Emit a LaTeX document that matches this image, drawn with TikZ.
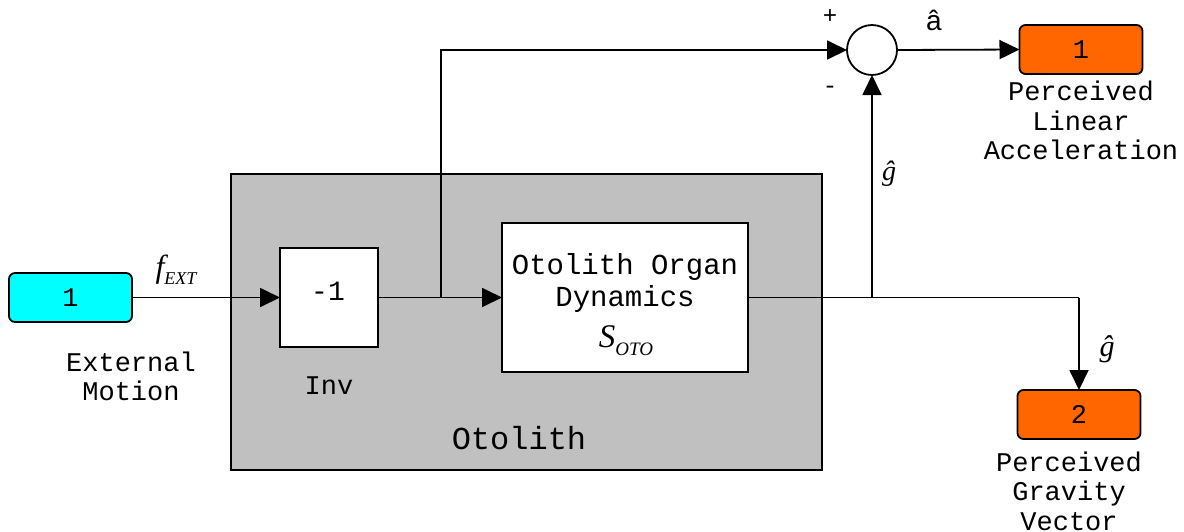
\documentclass[tikz,border=0pt]{standalone}
\usepackage{fontspec}
\setmonofont{Liberation Mono}
\newfontfamily\serifmath{Liberation Serif}
\newfontfamily\sansf{Liberation Sans}
\usetikzlibrary{arrows.meta}
\definecolor{incyan}{HTML}{00FFFF}
\definecolor{outorange}{HTML}{FF6600}
\definecolor{subgray}{HTML}{C0C0C0}
\begin{document}
\begin{tikzpicture}[x=1pt,y=-1pt,
  every node/.style={inner sep=0pt,outer sep=0pt},
  conn/.style={line width=1.8pt,-{Triangle[length=20pt,width=19pt]}},
  plain/.style={line width=1.8pt},
  port/.style={draw,line width=1.8pt,rounded corners=6pt,minimum width=123pt,minimum height=49pt,font=\ttfamily\fontsize{27}{30}\selectfont},
  blk/.style={draw,line width=1.8pt,fill=white},
  lbl/.style={font=\ttfamily\fontsize{27}{29.5}\selectfont,align=center},
  mth/.style={font=\serifmath\itshape\fontsize{28}{28}\selectfont}
]
\useasboundingbox (0,0) rectangle (1184,531);
% subsystem
\node[draw,line width=1.8pt,fill=subgray,minimum width=591pt,minimum height=296pt] (sub) at (526.5,322) {};
\node[font=\ttfamily\fontsize{32}{32}\selectfont] (subl) at (519,438) {Otolith};
% blocks
\node[port,fill=incyan] (in1) at (70.5,297.5) {1};
\node[lbl] (in1l) at (131,376.5) {External\\Motion};
\node[blk,minimum width=98pt,minimum height=99pt] (inv) at (329,297.5) {};
\node[font=\ttfamily\fontsize{28}{28}\selectfont] (invt) at (328,291) {-1};
\node[lbl] (invl) at (329,386) {Inv};
\node[blk,minimum width=246pt,minimum height=149pt] (oto) at (625,297.5) {};
\node[font=\ttfamily\fontsize{29}{32}\selectfont,align=center] (otot) at (625,283) {Otolith Organ\\Dynamics};
\node[font=\serifmath\itshape\fontsize{33}{33}\selectfont] (soto) at (626,341) {S\raisebox{-8pt}{\fontsize{19}{19}\selectfont OTO}};
\node[draw,line width=1.8pt,circle,minimum size=50pt,fill=white] (sum) at (872,50) {};
\node[font=\ttfamily\fontsize{24}{24}\selectfont] (plus) at (830,17) {+};
\node[font=\ttfamily\fontsize{24}{24}\selectfont] (minus) at (830,90) {-};
\node[port,fill=outorange] (out1) at (1081,49.5) {1};
\node[lbl] (out1l) at (1081,120.5) {Perceived\\Linear\\Acceleration};
\node[port,fill=outorange] (out2) at (1079,414.5) {2};
\node[lbl] (out2l) at (1069,491) {Perceived\\Gravity\\Vector};
% labels
\node[font=\serifmath\itshape\fontsize{32}{32}\selectfont] (fext) at (176,270) {f\raisebox{-7pt}{\fontsize{18}{18}\selectfont EXT}};
\node[font=\sansf\fontsize{28}{28}\selectfont] (ahat) at (934,20) {\^a};
\node[mth] (g1) at (889,174) {\^g};
\node[mth,font=\serifmath\itshape\fontsize{30}{30}\selectfont] (g2) at (1107,349) {\^g};
% connectors
\coordinate (b1) at (441,297.5);
\coordinate (b2) at (872,297.5);
\coordinate (c2) at (1079,297.5);
\draw[conn] (in1.east) -- (inv.west);
\draw[conn] (inv.east) -- (oto.west);
\draw[conn] (b1) |- (sum.west);
\draw[plain] (oto.east) -- (c2);
\draw[conn] (c2) -- (out2.north);
\draw[conn] (b2) -- (sum.south);
\draw[conn] (sum.east) -- (out1.west);
\end{tikzpicture}
\end{document}
